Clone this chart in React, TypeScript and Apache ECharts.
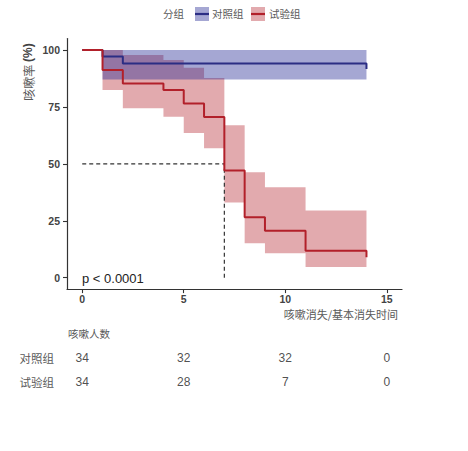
import React, { useEffect, useRef } from "react";
import * as echarts from "echarts";

// Kaplan-Meier step data (time, survival %)
const ctrlTime = [0, 1, 2, 14, 14];
const ctrlSurv = [100, 97.1, 94.1, 94.1, 91.6];
const expTime = [0, 1, 2, 4, 5, 6, 7, 8, 9, 11, 14, 14];
const expSurv = [100, 91.2, 85.3, 82.4, 76.5, 70.6, 47.1, 26.5, 20.6, 11.8, 11.8, 9.0];

// Confidence bands (interval start, end, lower, upper)
const ctrlBandStart = [1];
const ctrlBandEnd = [14];
const ctrlLower = [87];
const ctrlUpper = [100];
const expBandStart = [1, 2, 4, 5, 6, 7, 8, 9, 11];
const expBandEnd = [2, 4, 5, 6, 7, 8, 9, 11, 14];
const expLower = [82.4, 74.4, 70.7, 63.5, 56.8, 33.0, 15.1, 10.7, 4.7];
const expUpper = [100, 97.8, 95.6, 92.2, 87.7, 67.0, 46.3, 39.7, 29.5];

// Median reference line
const medianTime = 7;
const medianLevel = 50;

// Axis ticks
const xTicks = [0, 5, 10, 15];
const yTicks = [0, 25, 50, 75, 100];

// Risk table
const groups = ["对照组", "试验组"];
const riskTimes = [0, 5, 10, 15];
const ctrlRisk = [34, 32, 32, 0];
const expRisk = [34, 28, 7, 0];

const CJK = "'Noto Sans CJK SC', sans-serif";
const SANS = "'Liberation Sans', Arial, sans-serif";

const BLUE = "#2b2d84";
const RED = "#b2202a";
const BLUE_FILL = "rgba(40,45,150,0.42)";
const RED_FILL = "rgba(178,32,42,0.38)";

function bandSeries(start: number[], end: number[], lower: number[], upper: number[], fill: string) {
  return {
    type: "custom",
    xAxisIndex: 0,
    yAxisIndex: 0,
    silent: true,
    data: [[start[0], upper[0]]],
    renderItem: (_p: any, api: any) => {
      const pts: number[][] = [];
      for (let i = 0; i < start.length; i++) {
        pts.push(api.coord([start[i], upper[i]]));
        pts.push(api.coord([end[i], upper[i]]));
      }
      for (let i = start.length - 1; i >= 0; i--) {
        pts.push(api.coord([end[i], lower[i]]));
        pts.push(api.coord([start[i], lower[i]]));
      }
      return { type: "polygon", shape: { points: pts }, style: { fill, stroke: "none" } };
    },
  };
}

export default function App() {
  const ref = useRef<HTMLDivElement>(null);
  useEffect(() => {
    if (!ref.current) return;
    const chart = echarts.init(ref.current, undefined, { renderer: "svg" });
    const riskData: any[] = [];
    riskTimes.forEach((t, i) => {
      riskData.push([t, groups[0], ctrlRisk[i]]);
      riskData.push([t, groups[1], expRisk[i]]);
    });
    chart.setOption({
      animation: false,
      backgroundColor: "#ffffff",
      grid: [
        { left: 67, top: 38.6, width: 335, height: 250.5 },
        { left: 67, top: 345.7, width: 335, height: 48 },
      ],
      xAxis: [
        {
          type: "value",
          gridIndex: 0,
          min: -0.75,
          max: 15.75,
          splitLine: { show: false },
          axisLine: { onZero: false, lineStyle: { color: "#333", width: 1.2 } },
          axisTick: { customValues: xTicks, length: 4, lineStyle: { color: "#333", width: 1.1 } },
          axisLabel: {
            customValues: xTicks,
            color: "#444",
            fontSize: 10.5,
            fontWeight: "bold",
            fontFamily: SANS,
            margin: 4,
          },
        },
        {
          type: "value",
          gridIndex: 1,
          min: -0.75,
          max: 15.75,
          show: false,
        },
      ],
      yAxis: [
        {
          type: "value",
          gridIndex: 0,
          min: -5,
          max: 105,
          splitLine: { show: false },
          axisLine: { show: true, onZero: false, lineStyle: { color: "#333", width: 1.2 } },
          axisTick: { show: true, customValues: yTicks, length: 4, lineStyle: { color: "#333", width: 1.1 } },
          axisLabel: {
            customValues: yTicks,
            color: "#444",
            fontSize: 10.5,
            fontWeight: "bold",
            fontFamily: SANS,
            margin: 7,
          },
        },
        {
          type: "category",
          gridIndex: 1,
          data: groups,
          inverse: true,
          axisLine: { show: false },
          axisTick: { show: false },
          splitLine: { show: false },
          axisLabel: { color: "#5a5a5a", fontSize: 11.5, fontFamily: CJK, margin: 13 },
        },
      ],
      series: [
        bandSeries(expBandStart, expBandEnd, expLower, expUpper, RED_FILL),
        bandSeries(ctrlBandStart, ctrlBandEnd, ctrlLower, ctrlUpper, BLUE_FILL),
        {
          type: "line",
          name: "median",
          data: [
            [0, medianLevel],
            [medianTime, medianLevel],
            [medianTime, 0],
          ],
          showSymbol: false,
          symbol: "none",
          lineStyle: { color: "#333", width: 1.2, type: [4, 3] },
          silent: true,
        },
        {
          type: "line",
          name: "对照组",
          step: "end",
          data: ctrlTime.map((t, i) => [t, ctrlSurv[i]]),
          showSymbol: false,
          symbol: "none",
          lineStyle: { color: BLUE, width: 2 },
        },
        {
          type: "line",
          name: "试验组",
          step: "end",
          data: expTime.map((t, i) => [t, expSurv[i]]),
          showSymbol: false,
          symbol: "none",
          lineStyle: { color: RED, width: 2 },
        },
        {
          type: "scatter",
          xAxisIndex: 1,
          yAxisIndex: 1,
          data: riskData,
          symbolSize: 1,
          itemStyle: { color: "transparent" },
          label: {
            show: true,
            position: "inside",
            formatter: (p: any) => String(p.value[2]),
            color: "#222",
            fontSize: 12,
            fontFamily: SANS,
          },
          silent: true,
        },
      ],
      graphic: [
        // legend
        { type: "text", left: 163, top: 8, style: { text: "分组", fill: "#5a5a5a", fontSize: 10.5, fontFamily: CJK } },
        { type: "rect", shape: { x: 195, y: 7, width: 14, height: 14 }, style: { fill: BLUE_FILL } },
        { type: "line", shape: { x1: 195, y1: 14, x2: 209, y2: 14 }, style: { stroke: BLUE, lineWidth: 2.2 } },
        { type: "text", left: 212, top: 8, style: { text: "对照组", fill: "#5a5a5a", fontSize: 10.5, fontFamily: CJK } },
        { type: "rect", shape: { x: 251, y: 7, width: 14, height: 14 }, style: { fill: RED_FILL } },
        { type: "line", shape: { x1: 251, y1: 14, x2: 265, y2: 14 }, style: { stroke: RED, lineWidth: 2.2 } },
        { type: "text", left: 269, top: 8, style: { text: "试验组", fill: "#5a5a5a", fontSize: 10.5, fontFamily: CJK } },
        // y axis title
        {
          type: "text",
          x: 28,
          y: 72,
          rotation: Math.PI / 2,
          style: {
            text: "{a|咳嗽率 }{b|(%)}",
            align: "center",
            verticalAlign: "middle",
            rich: {
              a: { fill: "#5a5a5a", fontSize: 12, fontFamily: CJK },
              b: { fill: "#444", fontSize: 12, fontWeight: "bold", fontFamily: SANS },
            },
          },
        },
        // x axis title
        {
          type: "text",
          x: 398,
          y: 314,
          style: {
            text: "咳嗽消失/基本消失时间",
            align: "right",
            verticalAlign: "middle",
            fill: "#5a5a5a",
            fontSize: 11,
            fontFamily: CJK,
          },
        },
        // p-value
        {
          type: "text",
          x: 82,
          y: 278,
          style: { text: "p < 0.0001", verticalAlign: "middle", fill: "#222", fontSize: 13, fontFamily: SANS },
        },
        // risk table title
        {
          type: "text",
          x: 68,
          y: 333,
          style: { text: "咳嗽人数", verticalAlign: "middle", fill: "#5a5a5a", fontSize: 10.5, fontFamily: CJK },
        },
      ],
    });
    return () => chart.dispose();
  }, []);
  return (
    <div
      ref={ref}
      style={{ position: "absolute", left: 0, top: 0, width: 468, height: 451, background: "#fff" }}
    />
  );
}
